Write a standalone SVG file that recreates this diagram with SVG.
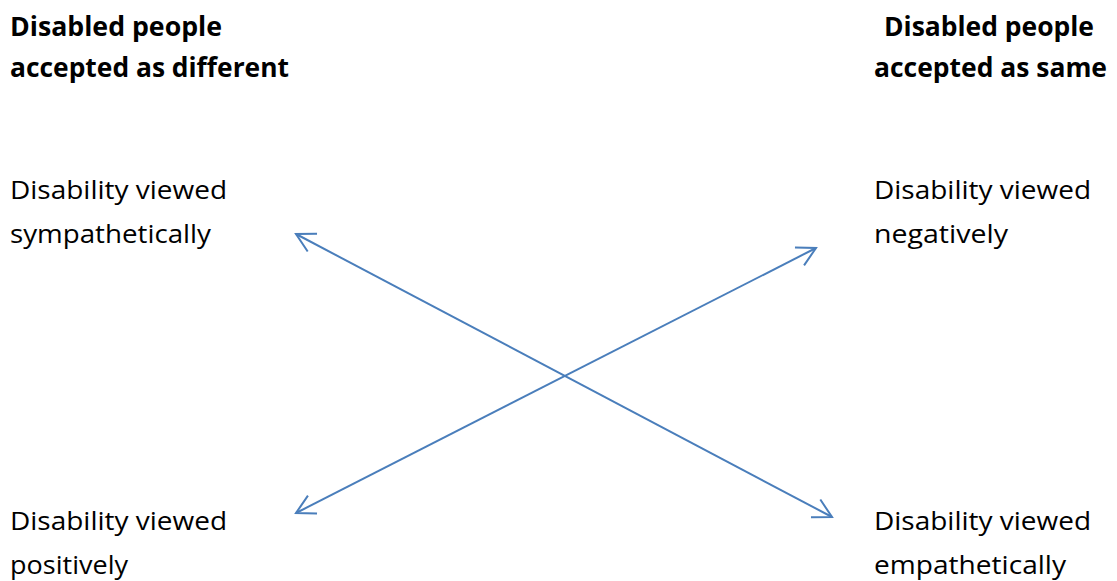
<svg xmlns="http://www.w3.org/2000/svg" width="1117" height="581" viewBox="0 0 1117 581">
  <style>
    .h { font-family: "Open Sans", "Noto Sans", sans-serif; font-weight: bold; font-size: 26px; fill: #000; }
    .t { font-family: "Open Sans", "Noto Sans", sans-serif; font-size: 26px; fill: #000; }
    .c { fill: none; stroke: #4A7EBB; stroke-width: 2; }
  </style>
  <defs>
    <marker id="arr" markerUnits="userSpaceOnUse" viewBox="-22 -12 24 24" markerWidth="24" markerHeight="24" refX="0" refY="0" orient="auto-start-reverse" overflow="visible">
      <path d="M -18.5 -10 L 0 0 L -18.5 10" fill="none" stroke="#4A7EBB" stroke-width="2" stroke-linejoin="miter"/>
    </marker>
  </defs>
  <rect width="1117" height="581" fill="#fff"/>
  <g id="heading-different">
    <text class="h" x="10" y="36" textLength="212" lengthAdjust="spacingAndGlyphs">Disabled people</text>
    <text class="h" x="10" y="77" textLength="279" lengthAdjust="spacingAndGlyphs">accepted as different</text>
  </g>
  <g id="heading-same">
    <text class="h" x="884" y="36" textLength="210" lengthAdjust="spacingAndGlyphs">Disabled people</text>
    <text class="h" x="874" y="77" textLength="233" lengthAdjust="spacingAndGlyphs">accepted as same</text>
  </g>
  <g id="sympathetically">
    <text class="t" x="10" y="199" textLength="217" lengthAdjust="spacingAndGlyphs">Disability viewed</text>
    <text class="t" x="10" y="243" textLength="201" lengthAdjust="spacingAndGlyphs">sympathetically</text>
  </g>
  <g id="negatively">
    <text class="t" x="874" y="199" textLength="217" lengthAdjust="spacingAndGlyphs">Disability viewed</text>
    <text class="t" x="874" y="243" textLength="134" lengthAdjust="spacingAndGlyphs">negatively</text>
  </g>
  <g id="positively">
    <text class="t" x="10" y="530" textLength="217" lengthAdjust="spacingAndGlyphs">Disability viewed</text>
    <text class="t" x="10" y="574" textLength="118" lengthAdjust="spacingAndGlyphs">positively</text>
  </g>
  <g id="empathetically">
    <text class="t" x="874" y="530" textLength="217" lengthAdjust="spacingAndGlyphs">Disability viewed</text>
    <text class="t" x="874" y="574" textLength="192" lengthAdjust="spacingAndGlyphs">empathetically</text>
  </g>
  <g id="connectors">
    <line class="c" x1="296" y1="234" x2="832" y2="517" marker-start="url(#arr)" marker-end="url(#arr)"/>
    <line class="c" x1="296" y1="513" x2="816" y2="248" marker-start="url(#arr)" marker-end="url(#arr)"/>
  </g>
</svg>
